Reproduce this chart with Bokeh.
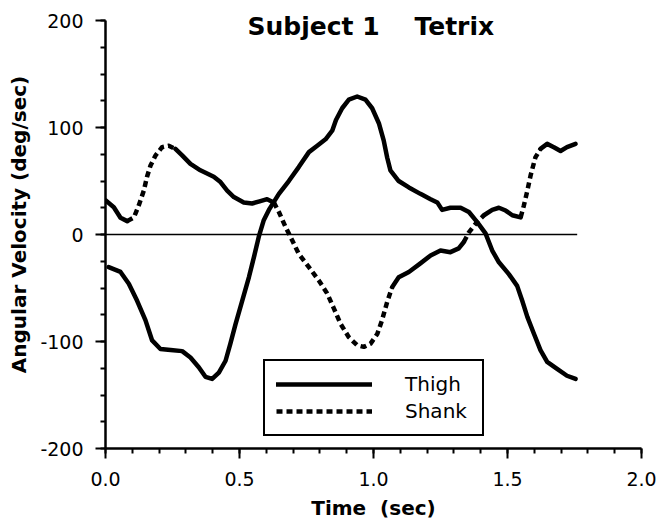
from bokeh.plotting import figure
from bokeh.models import FixedTicker, Label, Legend, LegendItem
from bokeh.embed import file_html
from bokeh.resources import INLINE

# ---- data ----
thigh_t = [0.012, 0.056, 0.087, 0.118, 0.149, 0.174, 0.205, 0.243, 0.286, 0.317,
           0.348, 0.373, 0.398, 0.423, 0.448, 0.466, 0.485, 0.51, 0.535, 0.555,
           0.572, 0.59, 0.612, 0.647, 0.684, 0.721, 0.759, 0.79, 0.821, 0.846,
           0.86, 0.883, 0.908, 0.939, 0.97, 0.995, 1.02, 1.038, 1.051, 1.063,
           1.094, 1.132, 1.175, 1.213, 1.238, 1.256, 1.287, 1.325, 1.356, 1.387,
           1.418, 1.443, 1.468, 1.505, 1.536, 1.555, 1.574, 1.599, 1.623, 1.648,
           1.685, 1.722, 1.754]
thigh_v = [-30.5, -35, -46, -62, -80, -99, -107, -108, -109, -115,
           -124, -133, -135, -129, -118, -102, -84, -62, -40, -20,
           -2, 13, 24, 38, 50, 63, 77, 83, 89, 97,
           107, 118, 126, 129, 126, 118, 104, 88, 72, 60,
           50, 44, 38, 33, 30, 23, 25, 25, 21, 11.5,
           1, -15, -26, -37, -48, -62, -77, -93, -108, -119,
           -125.5, -132, -135]

shank_t = [0.0, 0.031, 0.056, 0.081, 0.106, 0.124, 0.143, 0.155, 0.168, 0.187,
           0.211, 0.236, 0.261, 0.286, 0.317, 0.354, 0.404, 0.429, 0.454, 0.479,
           0.516, 0.547, 0.575, 0.603, 0.628, 0.647, 0.672, 0.697, 0.721, 0.759,
           0.796, 0.827, 0.852, 0.877, 0.908, 0.939, 0.964, 0.989, 1.014, 1.032,
           1.051, 1.07, 1.094, 1.132, 1.175, 1.213, 1.25, 1.287, 1.318, 1.337,
           1.356, 1.381, 1.412, 1.443, 1.468, 1.493, 1.518, 1.549, 1.561, 1.574,
           1.586, 1.604, 1.623, 1.648, 1.673, 1.698, 1.722, 1.754]
shank_v = [32, 25.5, 15.6, 12.5, 16, 27, 41, 54, 64.5, 74,
           81.6, 83, 80, 74, 66, 60, 54, 49, 41, 35,
           30, 29, 31, 33, 30, 21, 7, -5.6, -18, -30.5,
           -43, -55, -69, -83.5, -96, -103.5, -105, -102, -93, -80,
           -63, -49, -40, -35, -27, -19.6, -15, -16.5, -13, -7,
           2, 10, 18, 23, 25, 22.4, 18, 16, 27, 41,
           55, 72, 80, 84.7, 81.6, 78, 81.6, 84.7]

zero_t = [0.0, 1.76]
zero_v = [0, 0]

x_ticks = [0.0, 0.5, 1.0, 1.5, 2.0]
x_tick_labels = ["0.0", "0.5", "1.0", "1.5", "2.0"]
x_minor = [round(0.1 * i, 1) for i in range(21)]
y_ticks = [-200, -100, 0, 100, 200]
y_tick_labels = ["-200", "-100", "0", "100", "200"]
y_minor = list(range(-200, 201, 25))
y_axis_bounds = (-200, 200)

NBSP = "\u00a0"
title_text = "Subject 1" + NBSP * 3 + " Tetrix"
title_pos = (0.99, 194.5)
x_label = "Time" + NBSP + " (sec)"
y_label = "Angular Velocity (deg/sec)"
series_names = ["Thigh", "Shank"]

# portions of the shank trace where the printed dot pattern separates
shank_dotted_spans = [(0.09, 0.27), (0.635, 1.075), (1.33, 1.405), (1.555, 1.635)]

FONT = "DejaVu Sans"

# frame reaches the top of the page so the title (drawn inside it) is not clipped;
# the axis itself stops at 200 through its bounds
p = figure(width=658, height=523, x_range=(0, 2), y_range=(-200, 218.7),
           output_backend="svg", toolbar_location=None,
           min_border_left=105, min_border_right=17,
           min_border_top=0, min_border_bottom=75)
p.outline_line_color = None
p.xgrid.visible = False
p.ygrid.visible = False
p.background_fill_color = "white"
p.border_fill_color = "white"

for ax, ticks, minor, labels in ((p.xaxis[0], x_ticks, x_minor, x_tick_labels),
                                 (p.yaxis[0], y_ticks, y_minor, y_tick_labels)):
    ax.ticker = FixedTicker(ticks=ticks, minor_ticks=minor)
    ax.major_label_overrides = dict(zip(ticks, labels))
    ax.axis_line_color = "black"
    ax.axis_line_width = 2.5
    ax.major_tick_line_color = "black"
    ax.major_tick_line_width = 2
    ax.minor_tick_line_color = "black"
    ax.minor_tick_line_width = 2
    ax.major_tick_in = 0
    ax.major_tick_out = 10
    ax.minor_tick_in = 0
    ax.minor_tick_out = 5
    ax.major_label_text_font = FONT
    ax.major_label_text_font_size = "19px"
    ax.major_label_text_color = "black"
    ax.axis_label_text_font = FONT
    ax.axis_label_text_font_size = "20px"
    ax.axis_label_text_font_style = "bold"
    ax.axis_label_text_color = "black"

p.yaxis.bounds = y_axis_bounds
p.xaxis.axis_label = x_label
p.yaxis.axis_label = y_label
p.xaxis.major_label_standoff = 13
p.yaxis.major_label_standoff = 12
p.xaxis.axis_label_standoff = 7
p.yaxis.axis_label_standoff = 6

# zero reference line
p.line(zero_t, zero_v, line_color="black", line_width=1.5)

# thigh
thigh_r = p.line(thigh_t, thigh_v, line_color="black", line_width=4.5,
                 line_cap="round", line_join="round")

# shank: split into runs that print solid vs. separated dots
def dotted(m):
    return any(a <= m <= b for a, b in shank_dotted_spans)

runs = []
cur = None
for i in range(len(shank_t) - 1):
    st = dotted((shank_t[i] + shank_t[i + 1]) / 2)
    if st != cur:
        runs.append([st, [shank_t[i]], [shank_v[i]]])
        cur = st
    runs[-1][1].append(shank_t[i + 1])
    runs[-1][2].append(shank_v[i + 1])

solid_xs = [r[1] for r in runs if not r[0]]
solid_ys = [r[2] for r in runs if not r[0]]
dot_xs = [r[1] for r in runs if r[0]]
dot_ys = [r[2] for r in runs if r[0]]

p.multi_line(xs=solid_xs, ys=solid_ys, line_color="black", line_width=4.5,
             line_cap="round", line_join="round")
shank_r = p.multi_line(xs=dot_xs, ys=dot_ys, line_color="black", line_width=4.5,
                       line_dash="6 4", line_cap="butt", line_join="round")

legend = Legend(items=[LegendItem(label=series_names[0], renderers=[thigh_r]),
                       LegendItem(label=series_names[1], renderers=[shank_r])],
                location=(158, 12), margin=0, padding=11, spacing=3,
                glyph_width=96, glyph_height=22, label_standoff=33,
                label_width=66, label_height=22,
                label_text_font=FONT, label_text_font_size="20px",
                label_text_color="black",
                border_line_color="black", border_line_width=2,
                border_line_alpha=1,
                background_fill_color="white", background_fill_alpha=1)
p.add_layout(legend)

p.add_layout(Label(x=title_pos[0], y=title_pos[1], text=title_text,
                   text_align="center", text_baseline="alphabetic",
                   text_font=FONT, text_font_size="25px", text_font_style="bold",
                   text_color="black"))

open("out.html", "w").write(file_html(p, INLINE))
